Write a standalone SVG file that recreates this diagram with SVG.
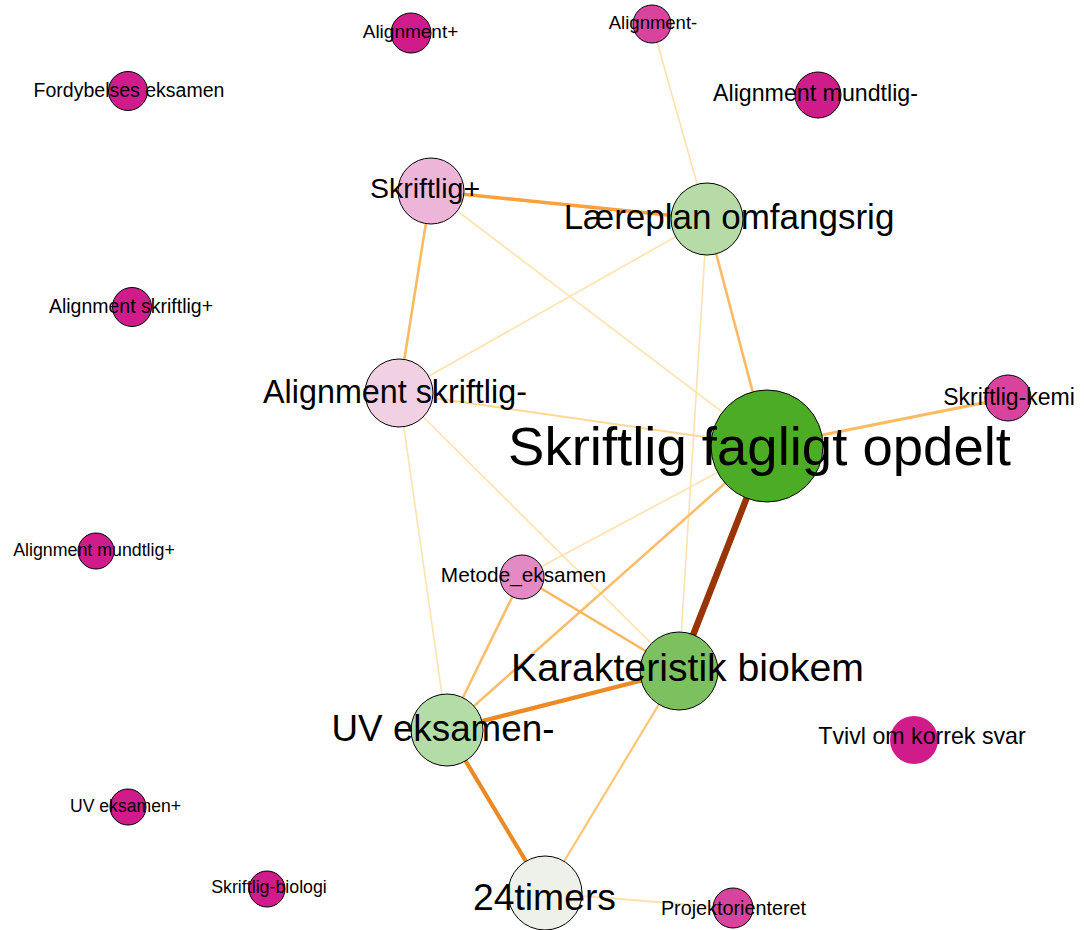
<svg xmlns="http://www.w3.org/2000/svg" width="1084" height="930" viewBox="0 0 1084 930">
  <style>
    .n { stroke: #000; stroke-width: 1; }
    .e { fill: none; stroke-linecap: round; }
    text { font-family: "Liberation Sans", Arial, sans-serif; fill: #000; text-anchor: middle; }
  </style>
  <rect width="1084" height="930" fill="#fff"/>

  <!-- edges -->
  <g id="connectors" class="e">
    <line x1="652" y1="24" x2="707" y2="219" stroke="#FEE2AE" stroke-width="1.6"/>
    <line x1="431" y1="191" x2="707" y2="219" stroke="#F9A23C" stroke-width="3.5"/>
    <line x1="431" y1="191" x2="399" y2="393" stroke="#FCBA64" stroke-width="2.6"/>
    <line x1="431" y1="191" x2="767" y2="446" stroke="#FEE2AE" stroke-width="1.6"/>
    <line x1="707" y1="219" x2="399" y2="393" stroke="#FEE2AE" stroke-width="1.6"/>
    <line x1="707" y1="219" x2="767" y2="446" stroke="#FCBA64" stroke-width="2.6"/>
    <line x1="707" y1="219" x2="679" y2="671" stroke="#FEE2AE" stroke-width="1.6"/>
    <line x1="399" y1="393" x2="767" y2="446" stroke="#FED896" stroke-width="2"/>
    <line x1="399" y1="393" x2="447" y2="730" stroke="#FEE2AE" stroke-width="1.6"/>
    <line x1="399" y1="393" x2="679" y2="671" stroke="#FEE2AE" stroke-width="1.6"/>
    <line x1="767" y1="446" x2="1008" y2="398" stroke="#FCBA64" stroke-width="3"/>
    <line x1="767" y1="446" x2="522" y2="577" stroke="#FEE2AE" stroke-width="1.6"/>
    <line x1="767" y1="446" x2="447" y2="730" stroke="#FCBE6C" stroke-width="2.6"/>
    <line x1="767" y1="446" x2="679" y2="671" stroke="#993404" stroke-width="6.5"/>
    <line x1="522" y1="577" x2="679" y2="671" stroke="#FBB65E" stroke-width="2.6"/>
    <line x1="522" y1="577" x2="447" y2="730" stroke="#FCBE6C" stroke-width="2.6"/>
    <line x1="447" y1="730" x2="679" y2="671" stroke="#EC8A26" stroke-width="4.2"/>
    <line x1="447" y1="730" x2="545" y2="893" stroke="#EC8A26" stroke-width="4.2"/>
    <line x1="679" y1="671" x2="545" y2="893" stroke="#FDC677" stroke-width="2.2"/>
    <line x1="545" y1="893" x2="733" y2="908" stroke="#FEE2AE" stroke-width="2.2"/>
  </g>

  <!-- nodes -->
  <g id="node-alignment-plus"><circle class="n" cx="411" cy="33" r="20" fill="#D01C8B"/></g>
  <g id="node-alignment-minus"><circle class="n" cx="652" cy="24" r="19" fill="#D8449D"/></g>
  <g id="node-alignment-mundtlig-minus"><circle class="n" cx="818" cy="95" r="23" fill="#D01C8B"/></g>
  <g id="node-fordybelses-eksamen"><circle class="n" cx="128" cy="91" r="19.5" fill="#D01C8B"/></g>
  <g id="node-alignment-skriftlig-plus"><circle class="n" cx="132" cy="307" r="19.5" fill="#D01C8B"/></g>
  <g id="node-skriftlig-plus"><circle class="n" cx="431" cy="191" r="33" fill="#EDB6D9"/></g>
  <g id="node-laereplan"><circle class="n" cx="707" cy="219" r="36" fill="#B6DBA7"/></g>
  <g id="node-alignment-skriftlig-minus"><circle class="n" cx="399" cy="393" r="34" fill="#F1D0E3"/></g>
  <g id="node-skriftlig-fagligt"><circle class="n" cx="767" cy="446" r="56" fill="#4DAC26"/></g>
  <g id="node-skriftlig-kemi"><circle class="n" cx="1008" cy="398" r="23" fill="#D8449D"/></g>
  <g id="node-alignment-mundtlig-plus"><circle class="n" cx="96" cy="551" r="18" fill="#D01C8B"/></g>
  <g id="node-metode-eksamen"><circle class="n" cx="522" cy="577" r="22" fill="#E38AC5"/></g>
  <g id="node-karakteristik"><circle class="n" cx="679" cy="671" r="39" fill="#7CC060"/></g>
  <g id="node-uv-eksamen-minus"><circle class="n" cx="447" cy="730" r="36" fill="#B3DCA6"/></g>
  <g id="node-tvivl"><circle cx="914" cy="740" r="24" fill="#D01C8B"/></g>
  <g id="node-uv-eksamen-plus"><circle class="n" cx="128" cy="807" r="18" fill="#D01C8B"/></g>
  <g id="node-skriftlig-biologi"><circle class="n" cx="267" cy="889" r="18" fill="#D01C8B"/></g>
  <g id="node-24timers"><circle class="n" cx="545" cy="893" r="37" fill="#EDF1E9"/></g>
  <g id="node-projektorienteret"><circle class="n" cx="733" cy="908" r="20" fill="#D8449D"/></g>

  <!-- labels -->
  <g id="labels">
    <text x="410.5" y="38" font-size="19">Alignment+</text>
    <text x="653" y="29" font-size="18.5">Alignment-</text>
    <text x="815.5" y="101" font-size="23.2">Alignment mundtlig-</text>
    <text x="129" y="97" font-size="19.5">Fordybelses eksamen</text>
    <text x="131" y="313" font-size="19.5">Alignment skriftlig+</text>
    <text x="425" y="198" font-size="28.5">Skriftlig+</text>
    <text x="729" y="229" font-size="35">Læreplan omfangsrig</text>
    <text x="395" y="403" font-size="32.3">Alignment skriftlig-</text>
    <text x="759.5" y="465" font-size="54.5">Skriftlig fagligt opdelt</text>
    <text x="1009" y="405" font-size="23">Skriftlig-kemi</text>
    <text x="94" y="556" font-size="17.8">Alignment mundtlig+</text>
    <text x="523.5" y="582" font-size="20.8">Metode_eksamen</text>
    <text x="687.5" y="681" font-size="39.2">Karakteristik biokem</text>
    <text x="443" y="741" font-size="36.8">UV eksamen-</text>
    <text x="922" y="744" font-size="23.2">Tvivl om korrek svar</text>
    <text x="125.5" y="812" font-size="17.6">UV eksamen+</text>
    <text x="269" y="893" font-size="17.8">Skriftlig-biologi</text>
    <text x="544.5" y="910" font-size="37.3">24timers</text>
    <text x="733.5" y="915" font-size="19.8">Projektorienteret</text>
  </g>
</svg>
